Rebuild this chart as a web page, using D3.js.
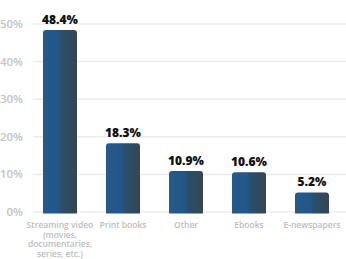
<!DOCTYPE html>
<html>
<head>
<meta charset="utf-8">
<script src="https://cdn.jsdelivr.net/npm/d3@7"></script>
<style>
body { margin: 0; background: #fff; }
svg { display: block; font-family: 'Open Sans', sans-serif; }
</style>
</head>
<body>
<svg width="346" height="259"></svg>
<script>
var categories = [['Streaming video', '(movies,', 'documentaries,', 'series, etc.)'], ['Print books'], ['Other'], ['Ebooks'], ['E-newspapers']];
var values = [48.4, 18.3, 10.9, 10.6, 5.2];
var ticks = [0, 10, 20, 30, 40, 50];

function main() {
	var svg = d3.select('svg');

	var x = d3.scaleBand()
		.domain(d3.range(values.length))
		.range([28.5, 343.5])
		.paddingInner(0.46)
		.paddingOuter(0.23);
	var y = d3.scaleLinear().domain([0, 50]).range([212, 24]);

	var defs = svg.append('defs');
	var grad = defs.append('linearGradient').attr('id', 'barg')
		.attr('x1', '0%').attr('x2', '100%').attr('y1', '0%').attr('y2', '0%');
	[['0%', '#245b8b'], ['48%', '#225687'], ['52%', '#2a4f70'], ['75%', '#2f4a60'], ['100%', '#374650']]
		.forEach(function(s) { grad.append('stop').attr('offset', s[0]).attr('stop-color', s[1]); });

	// gridlines
	svg.append('g').selectAll('line')
		.data(ticks).enter().append('line')
		.attr('x1', 33).attr('x2', 346)
		.attr('y1', function(d) { return y(d); })
		.attr('y2', function(d) { return y(d); })
		.attr('stroke', '#ececec').attr('stroke-width', 1.5);

	svg.append('g').selectAll('text')
		.data(ticks).enter().append('text')
		.attr('x', 23).attr('y', function(d) { return y(d) + 4; })
		.attr('text-anchor', 'end')
		.attr('fill', '#c4c4c4')
		.attr('font-size', 11.5).attr('font-weight', 600)
		.text(function(d) { return d + '%'; });

	var r = 3;
	svg.append('g').selectAll('path')
		.data(values).enter().append('path')
		.attr('fill', 'url(#barg)')
		.attr('d', function(d, i) {
			var x0 = x(i), x1 = x(i) + x.bandwidth(), y0 = y(d), y1 = y(0) + 1.5;
			return 'M' + x0 + ',' + y1 + 'V' + (y0 + r) + 'Q' + x0 + ',' + y0 + ' ' + (x0 + r) + ',' + y0 +
				'H' + (x1 - r) + 'Q' + x1 + ',' + y0 + ' ' + x1 + ',' + (y0 + r) + 'V' + y1 + 'Z';
		});

	svg.append('g').selectAll('text')
		.data(values).enter().append('text')
		.attr('x', function(d, i) { return x(i) + x.bandwidth() / 2; })
		.attr('y', function(d) { return y(d) - 6; })
		.attr('text-anchor', 'middle')
		.attr('font-size', 12).attr('font-weight', 800)
		.attr('fill', '#111')
		.text(function(d) { return d.toFixed(1) + '%'; });

	var lab = svg.append('g').selectAll('text')
		.data(categories).enter().append('text')
		.attr('x', function(d, i) { return x(i) + x.bandwidth() / 2; })
		.attr('y', 228)
		.attr('text-anchor', 'middle')
		.attr('font-size', 8.5).attr('font-weight', 600)
		.attr('fill', '#bdbdbd');
	lab.selectAll('tspan')
		.data(function(d) { return d; }).enter().append('tspan')
		.attr('x', function() { return d3.select(this.parentNode).attr('x'); })
		.attr('dy', function(d, j) { return j ? 9.5 : 0; })
		.text(function(d) { return d; });
}
main();
</script>
</body>
</html>
